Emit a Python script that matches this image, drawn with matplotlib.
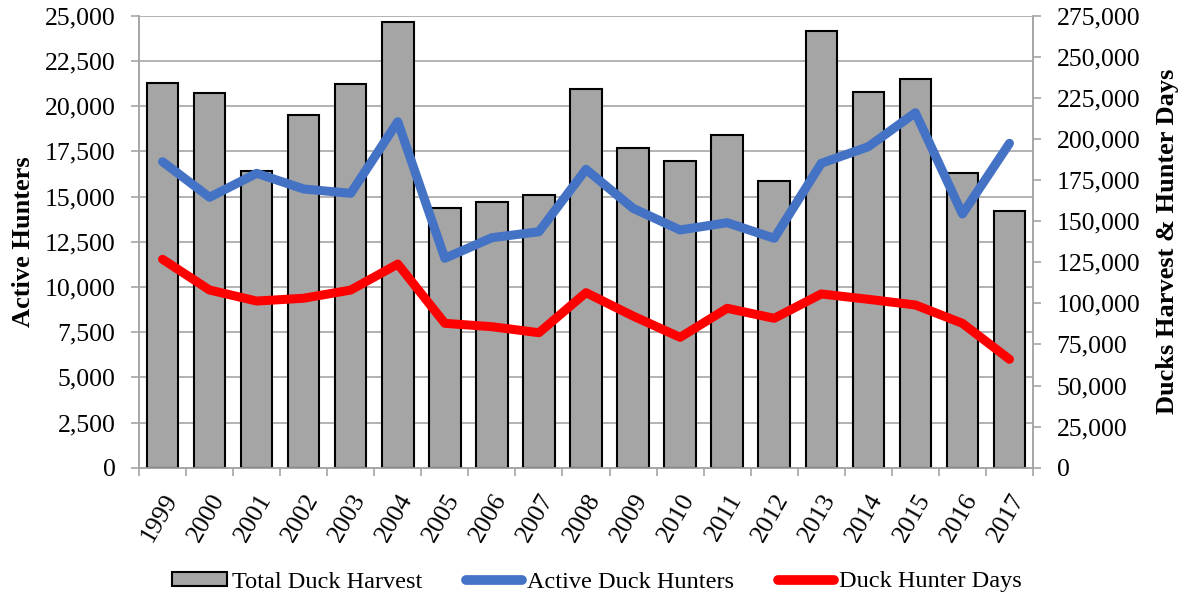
import matplotlib
matplotlib.use("Agg")
import matplotlib.pyplot as plt
from matplotlib.ticker import FuncFormatter, MultipleLocator, FixedLocator
from matplotlib.patches import Patch
from matplotlib.lines import Line2D
import numpy as np

years = ["1999", "2000", "2001", "2002", "2003", "2004", "2005", "2006", "2007", "2008",
         "2009", "2010", "2011", "2012", "2013", "2014", "2015", "2016", "2017"]

total_duck_harvest = [234200, 227800, 180500, 214600, 233400, 271400, 157800, 161800, 165700, 230200,
                      194500, 186800, 202200, 174400, 265700, 228400, 236300, 179100, 156000]

active_duck_hunters = [16925, 14956, 16283, 15415, 15177, 19137, 11582, 12721, 13053, 16504,
                       14347, 13147, 13551, 12688, 16836, 17754, 19635, 14032, 17942]

duck_hunter_days = [126800, 108100, 101400, 103100, 108100, 123900, 87850, 85780, 82130, 106500,
                    92290, 79330, 96980, 90900, 105700, 102450, 99000, 87850, 65950]

plt.rcParams["font.family"] = ["Liberation Serif", "DejaVu Serif"]

GRID = "#a6a6a6"
BAR = "#a5a5a5"
BLUE = "#4472c4"
RED = "#ff0000"
TICK_FS = 18.5

fig = plt.figure(figsize=(11.87, 6.0), dpi=100)
ax1 = fig.add_axes([139 / 1187, 1 - 467.7 / 600, 894 / 1187, 452 / 600])
ax2 = ax1.twinx()

x = np.arange(len(years))
comma = FuncFormatter(lambda v, p: f"{int(round(v)):,}")

# left axis: active hunters scale, with horizontal gridlines
ax1.set_xlim(-0.5, len(years) - 0.5)
ax1.set_ylim(0, 25000)
ax1.yaxis.set_major_locator(MultipleLocator(2500))
ax1.yaxis.set_major_formatter(comma)
ax1.grid(axis="y", color=GRID, linewidth=1.2)
ax1.set_axisbelow(True)

# right axis: harvest and hunter days
ax2.set_ylim(0, 275000)
ax2.yaxis.set_major_locator(MultipleLocator(25000))
ax2.yaxis.set_major_formatter(comma)

ax2.bar(x, total_duck_harvest, width=0.67, color=BAR, edgecolor="black",
        linewidth=1.5, zorder=2)
ax2.plot(x, duck_hunter_days, color=RED, linewidth=6.5, solid_capstyle="round",
         solid_joinstyle="round", zorder=3)
# active hunters use the left-axis scale but sit above the bars
ax2.plot(x, active_duck_hunters, color=BLUE, linewidth=6.5, solid_capstyle="round",
         solid_joinstyle="round", zorder=4, transform=ax1.transData)
ax2.set_ylim(0, 275000)
ax1.set_ylim(0, 25000)

for ax in (ax1, ax2):
    for side in ("top", "left", "right", "bottom"):
        ax.spines[side].set_color(GRID)
        ax.spines[side].set_linewidth(1.2)
    ax.spines["top"].set_visible(False)

ax1.tick_params(axis="y", direction="out", length=5.5, width=1.2, color=GRID,
                labelsize=TICK_FS, pad=11.5)
ax2.tick_params(axis="y", direction="out", length=5.5, width=1.2, color=GRID,
                labelsize=TICK_FS, pad=11.5)

# category labels at bar centres, tick marks between categories
ax1.xaxis.set_major_locator(FixedLocator(x))
ax1.set_xticklabels(years, rotation=60, ha="right", va="top",
                    rotation_mode="anchor", fontsize=TICK_FS)
ax1.xaxis.set_minor_locator(FixedLocator(np.arange(-0.5, len(years), 1.0)))
ax1.tick_params(axis="x", which="major", length=0, pad=16)
ax1.tick_params(axis="x", which="minor", direction="out", length=5.5, width=1.2, color=GRID)
ax2.tick_params(axis="x", which="both", length=0)

ax1.set_ylabel("Active Hunters", fontsize=19, fontweight="bold")
ax1.yaxis.set_label_coords(-0.1290, 0.5)
ax1.yaxis.label.set_va("center")
ax2.set_ylabel("Ducks Harvest & Hunter Days", fontsize=19, fontweight="bold")
ax2.yaxis.set_label_coords(1.1499, 0.5)
ax2.yaxis.label.set_va("center")

handles = [
    Patch(facecolor=BAR, edgecolor="black", linewidth=1.5, label="Total Duck Harvest"),
    Line2D([0], [0], color=BLUE, linewidth=7, solid_capstyle="round", label="Active Duck Hunters"),
    Line2D([0], [0], color=RED, linewidth=7, solid_capstyle="round", label="Duck Hunter Days"),
]
fig.legend(handles=handles, loc="center", bbox_to_anchor=(0.5025, 1 - 582 / 600),
           ncol=3, frameon=False, fontsize=17.5, handlelength=2.3, handleheight=0.55,
           handletextpad=0.2, columnspacing=1.8)

fig.savefig("out.png", dpi=100)
